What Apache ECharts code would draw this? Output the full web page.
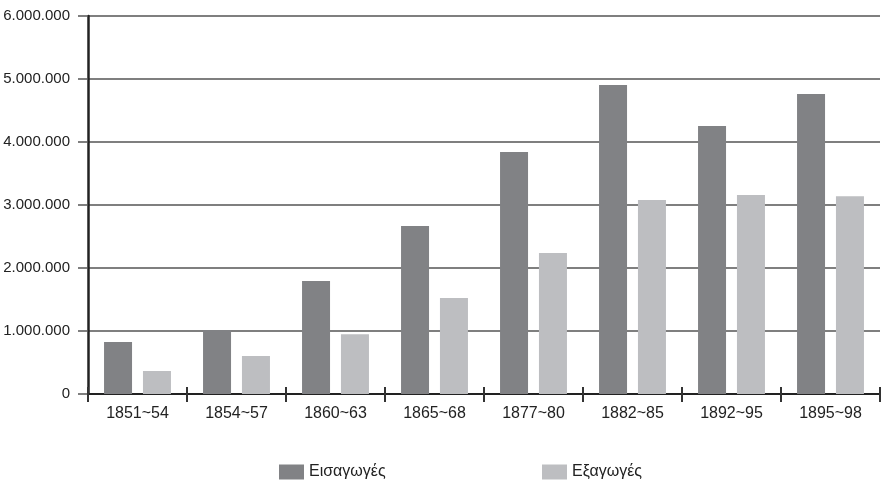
<!DOCTYPE html>
<html><head><meta charset="utf-8">
<script src="https://cdn.jsdelivr.net/npm/echarts@6/dist/echarts.min.js"></script>
<style>html,body{margin:0;padding:0;background:#fff}#c{width:881px;height:484px}</style>
</head><body><div id="c"></div>
<script>
const categories = ['1851~54','1854~57','1860~63','1865~68','1877~80','1882~85','1892~95','1895~98'];
const imports = [825000, 1015000, 1795000, 2665000, 3840000, 4905000, 4255000, 4760000];
const exports = [365000, 605000, 950000, 1525000, 2240000, 3080000, 3160000, 3140000];
const seriesNames = ['Εισαγωγές', 'Εξαγωγές'];
const yTicks = [0, 1000000, 2000000, 3000000, 4000000, 5000000, 6000000];

const FONT = '"Liberation Sans", Arial, sans-serif';
const TXT = {fontFamily: FONT, fontSize: 15, color: '#222'};
const fmt = v => String(v).replace(/\B(?=(\d{3})+(?!\d))/g, '.');

const chart = echarts.init(document.getElementById('c'), null, {renderer: 'canvas'});
chart.setOption({
  animation: false,
  backgroundColor: '#fff',
  color: ['#818285', '#bdbec1'],
  grid: {left: 88, right: 1, top: 16, bottom: 90, containLabel: false, outerBoundsMode: 'none'},
  legend: [
    {data: [seriesNames[0]], left: 274, top: 459, itemWidth: 25, itemHeight: 15, icon: 'rect',
     textStyle: Object.assign({}, TXT, {fontSize: 16}), itemGap: 10},
    {data: [seriesNames[1]], left: 537, top: 459, itemWidth: 25, itemHeight: 15, icon: 'rect',
     textStyle: Object.assign({}, TXT, {fontSize: 16}), itemGap: 10}
  ],
  xAxis: [{
    type: 'category', data: categories, position: 'bottom',
    axisLine: {lineStyle: {color: '#222', width: 2}},
    axisTick: {show: true, length: 8, lineStyle: {color: '#333', width: 2}},
    axisLabel: Object.assign({}, TXT, {fontSize: 16, margin: 12}),
    splitLine: {show: false}
  }, {
    type: 'category', data: categories, position: 'bottom', offset: 0,
    axisLine: {show: false},
    axisTick: {show: true, inside: true, length: 7, lineStyle: {color: '#333', width: 2}},
    axisLabel: {show: false}, splitLine: {show: false}
  }],
  yAxis: {
    type: 'value', min: yTicks[0], max: yTicks[yTicks.length - 1], interval: yTicks[1] - yTicks[0],
    axisLine: {show: true, lineStyle: {color: '#222', width: 2.5}},
    axisTick: {show: true, length: 10, lineStyle: {color: '#555', width: 1.5}},
    axisLabel: Object.assign({}, TXT, {margin: 18, formatter: v => fmt(v)}),
    splitLine: {show: true, lineStyle: {color: '#555', width: 1.5}}
  },
  series: [
    {name: seriesNames[0], type: 'bar', data: imports, barWidth: 28, barGap: '39%', xAxisIndex: 0},
    {name: seriesNames[1], type: 'bar', data: exports, barWidth: 28, barGap: '39%', xAxisIndex: 0}
  ]
});
</script></body></html>
